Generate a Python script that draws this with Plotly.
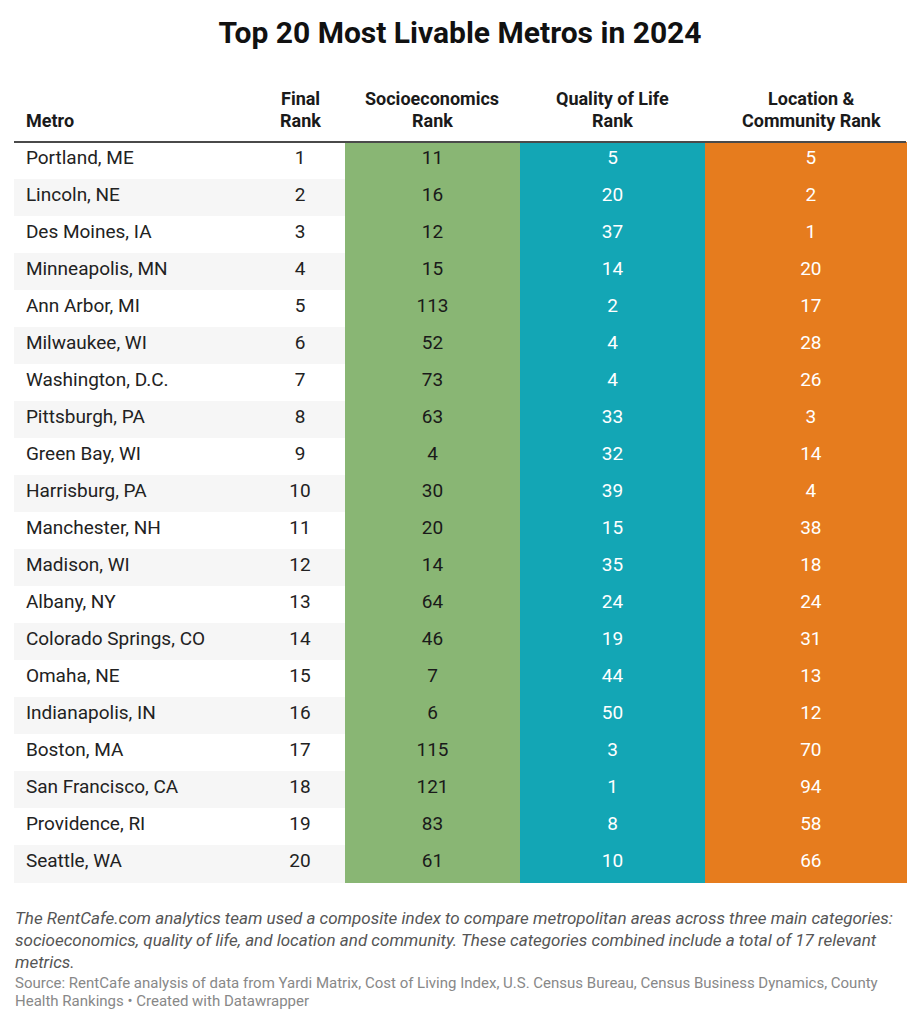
import plotly.graph_objects as go

# Table data
metros = [
    "Portland, ME", "Lincoln, NE", "Des Moines, IA", "Minneapolis, MN", "Ann Arbor, MI",
    "Milwaukee, WI", "Washington, D.C.", "Pittsburgh, PA", "Green Bay, WI", "Harrisburg, PA",
    "Manchester, NH", "Madison, WI", "Albany, NY", "Colorado Springs, CO", "Omaha, NE",
    "Indianapolis, IN", "Boston, MA", "San Francisco, CA", "Providence, RI", "Seattle, WA",
]
final_rank = list(range(1, 21))
socio_rank = [11, 16, 12, 15, 113, 52, 73, 63, 4, 30, 20, 14, 64, 46, 7, 6, 115, 121, 83, 61]
quality_rank = [5, 20, 37, 14, 2, 4, 4, 33, 32, 39, 15, 35, 24, 19, 44, 50, 3, 1, 8, 10]
location_rank = [5, 2, 1, 20, 17, 28, 26, 3, 14, 4, 38, 18, 24, 31, 13, 12, 70, 94, 58, 66]

# header lines (top line, bottom line)
headers = [
    ("", "Metro"),
    ("Final", "Rank"),
    ("Socioeconomics", "Rank"),
    ("Quality of Life", "Rank"),
    ("Location &", "Community Rank"),
]

W, H = 920, 1024
OX, OY = 8, 8  # page body margin
GREEN = "#89b674"
TEAL = "#13a6b5"
ORANGE = "#e67c1e"

# column edges in page pixels
edges = [14, 255, 345, 520, 705, 906]
widths = [edges[i + 1] - edges[i] for i in range(5)]


def px(x):
    return (x - OX) / W


def py(y):
    return 1 - (y - OY) / H


n = len(metros)
stripe = ["white" if i % 2 == 0 else "#f6f6f6" for i in range(n)]

fig = go.Figure()
fig.add_trace(go.Table(
    domain=dict(x=[px(edges[0]), px(edges[-1])], y=[py(900), py(85)]),
    columnwidth=widths,
    header=dict(
        values=[""] * 5,
        fill_color="white",
        line=dict(color="white", width=0),
        height=57,
    ),
    cells=dict(
        values=[metros, final_rank, socio_rank, quality_rank, location_rank],
        prefix=["\u200a", "", "", "", "\u2007"],
        align=["left", "center", "center", "center", "center"],
        font=dict(family="Roboto", size=19, color=["#222222", "#222222", "#1a1a1a", "white", "white"]),
        fill_color=[stripe, stripe, [GREEN] * n, [TEAL] * n, [ORANGE] * n],
        line=dict(color=[stripe, stripe, [GREEN] * n, [TEAL] * n, [ORANGE] * n], width=1),
        height=37,
    ),
))

# header labels
header_x = [24, 300, 432, 612, 811]
for i, (top, bottom) in enumerate(headers):
    for txt, yy in ((top, 98), (bottom, 120)):
        if not txt:
            continue
        fig.add_annotation(text="<b>%s</b>" % txt, xref="paper", yref="paper",
                           x=px(header_x[i]), y=py(yy),
                           xanchor="left" if i == 0 else "center", yanchor="middle",
                           showarrow=False,
                           font=dict(family="Roboto", size=18, color="#1a1a1a"))

# header underline
fig.add_shape(type="line", xref="paper", yref="paper",
              x0=px(edges[0]), x1=px(edges[-1]), y0=py(142), y1=py(142),
              line=dict(color="#4a4a4a", width=2))

notes = [
    "The RentCafe.com analytics team used a composite index to compare metropolitan areas across three main categories:",
    "socioeconomics, quality of life, and location and community. These categories combined include a total of 17 relevant",
    "metrics.",
]
for i, t in enumerate(notes):
    fig.add_annotation(text="<i>%s</i>" % t, xref="paper", yref="paper",
                       x=px(13), y=py(918 + 22 * i), xanchor="left", yanchor="middle",
                       showarrow=False, font=dict(family="Roboto", size=17, color="#555555"))

sources = [
    "Source: RentCafe analysis of data from Yardi Matrix, Cost of Living Index, U.S. Census Bureau, Census Business Dynamics, County",
    "Health Rankings • Created with Datawrapper",
]
for i, t in enumerate(sources):
    fig.add_annotation(text=t, xref="paper", yref="paper",
                       x=px(13), y=py(983 + 18 * i), xanchor="left", yanchor="middle",
                       showarrow=False, font=dict(family="Roboto", size=15, color="#888888"))

fig.update_layout(
    title=dict(text="<b>Top 20 Most Livable Metros in 2024</b>", x=px(460), xanchor="center",
               y=py(32), yanchor="middle", font=dict(family="Roboto", size=30, color="#111111")),
    width=W, height=H,
    margin=dict(l=0, r=0, t=0, b=0),
    paper_bgcolor="white",
)

fig.write_html("out.html")
